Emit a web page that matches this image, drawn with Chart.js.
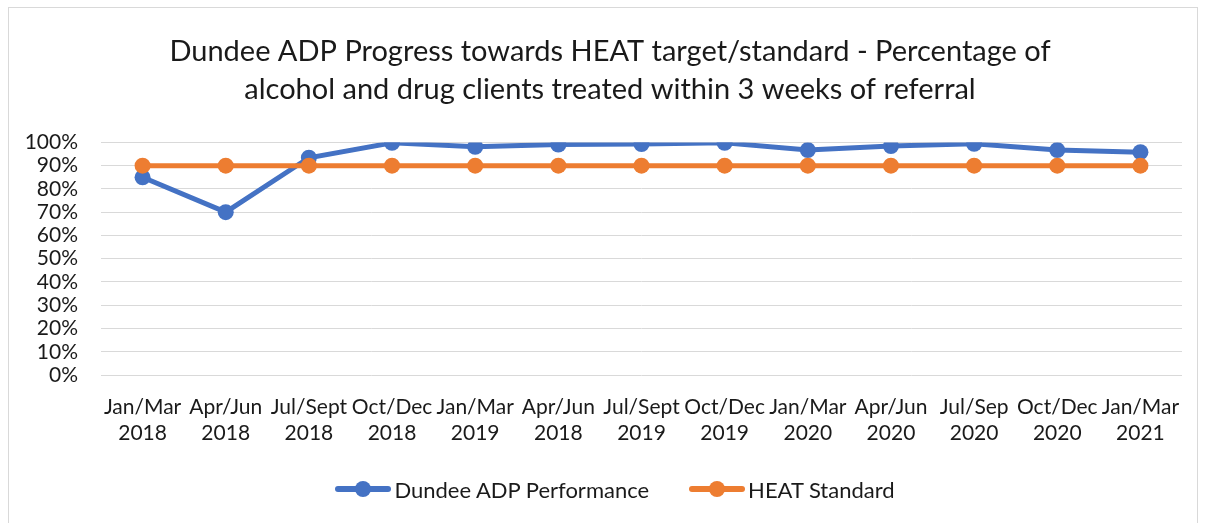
<!DOCTYPE html>
<html>
<head>
<meta charset="utf-8">
<script src="https://cdn.jsdelivr.net/npm/chart.js@4/dist/chart.umd.min.js"></script>
<style>
  html, body { margin: 0; padding: 0; background: #fff; }
  #wrap { position: relative; width: 1206px; height: 523px; overflow: hidden; }
  #frame { position: absolute; left: 8px; top: 7px; width: 1190px; height: 530px; border: 1px solid #d9d9d9; box-sizing: border-box; }
  canvas { position: absolute; left: 0; top: 0; }
  #legend { position: absolute; left: 0; top: 475px; width: 1230px; display: flex; justify-content: center; gap: 40px; font-family: Lato, "Liberation Sans", sans-serif; font-size: 22px; color: #1a1a1a; }
  .item { display: flex; align-items: center; }
  .key { position: relative; width: 56px; height: 28px; margin-right: 3px; }
  .key .ln { position: absolute; left: 0; right: 0; top: 11px; height: 6px; border-radius: 3px; }
  .key .dot { position: absolute; left: 20px; top: 6px; width: 16px; height: 16px; border-radius: 50%; }
</style>
</head>
<body>
<div id="wrap">
  <div id="frame"></div>
  <canvas id="c" width="1206" height="523"></canvas>
  <div id="legend"></div>
</div>
<script>
// ——— DATA ———
const quarters = ['Jan/Mar', 'Apr/Jun', 'Jul/Sept', 'Oct/Dec', 'Jan/Mar', 'Apr/Jun', 'Jul/Sept', 'Oct/Dec', 'Jan/Mar', 'Apr/Jun', 'Jul/Sep', 'Oct/Dec', 'Jan/Mar'];
const years = ['2018', '2018', '2018', '2018', '2019', '2018', '2019', '2019', '2020', '2020', '2020', '2020', '2021'];
const dundeePerformance = [0.85, 0.70, 0.934, 0.998, 0.981, 0.991, 0.993, 0.998, 0.967, 0.984, 0.994, 0.967, 0.958];
const heatStandard = [0.90, 0.90, 0.90, 0.90, 0.90, 0.90, 0.90, 0.90, 0.90, 0.90, 0.90, 0.90, 0.90];
const yTicks = [0, 0.1, 0.2, 0.3, 0.4, 0.5, 0.6, 0.7, 0.8, 0.9, 1.0];

const BLUE = '#4472C4';
const ORANGE = '#ED7D31';
const FONT = 'Lato, "Liberation Sans", sans-serif';

const labels = quarters.map((q, i) => [q, years[i]]);

const series = [
    { label: 'Dundee ADP Performance', data: dundeePerformance, color: BLUE, order: 1 },
    { label: 'HEAT Standard', data: heatStandard, color: ORANGE, order: 0 }
];

// title sits centred on the whole frame, not on the padded box
const shiftTitle = {
    id: 'shiftTitle',
    afterLayout(chart) {
        const t = chart.titleBlock;
        if (t) { t.left += 19; t.right += 19; }
    }
};

// ——— CHART ———
new Chart(document.getElementById('c'), {
    type: 'line',
    data: {
        labels: labels,
        datasets: series.map(s => ({
            label: s.label,
            data: s.data,
            order: s.order,
            borderColor: s.color,
            backgroundColor: s.color,
            borderWidth: 5,
            pointRadius: 8,
            pointBackgroundColor: s.color,
            pointBorderColor: s.color,
            pointBorderWidth: 0,
            tension: 0,
            fill: false
        }))
    },
    plugins: [shiftTitle],
    options: {
        responsive: false,
        animation: false,
        layout: { padding: { left: 0, right: 24, top: 0, bottom: 0 } },
        plugins: {
            legend: { display: false },
            tooltip: { enabled: false },
            title: {
                display: true,
                text: ['Dundee ADP Progress towards HEAT target/standard - Percentage of', 'alcohol and drug clients treated within 3 weeks of referral'],
                color: '#1a1a1a',
                font: { family: FONT, size: 29, weight: 'normal', lineHeight: 1.3 },
                padding: { top: 33, bottom: 34 }
            }
        },
        scales: {
            x: {
                offset: true,
                grid: { display: false, drawTicks: false },
                border: { display: false },
                ticks: {
                    autoSkip: false,
                    maxRotation: 0,
                    minRotation: 0,
                    padding: 20,
                    color: '#1a1a1a',
                    font: { family: FONT, size: 21, lineHeight: 1.2 }
                },
                afterFit: s => { s.height = 148; }
            },
            y: {
                min: 0,
                max: 1,
                afterBuildTicks: s => { s.ticks = yTicks.map(v => ({ value: v })); },
                grid: { color: '#d9d9d9', lineWidth: 1, drawTicks: false },
                border: { display: false },
                ticks: {
                    autoSkip: false,
                    padding: 23,
                    color: '#1a1a1a',
                    font: { family: FONT, size: 21 },
                    callback: v => Math.round(v * 100) + '%'
                },
                afterFit: s => { s.width = 101; }
            }
        }
    }
});

// ——— LEGEND ———
const legend = document.getElementById('legend');
series.forEach(s => {
    legend.innerHTML += `
    <div class="item">
      <div class="key"><div class="ln" style="background:${s.color}"></div><div class="dot" style="background:${s.color}"></div></div>
      <span>${s.label}</span>
    </div>`;
});
</script>
</body>
</html>
